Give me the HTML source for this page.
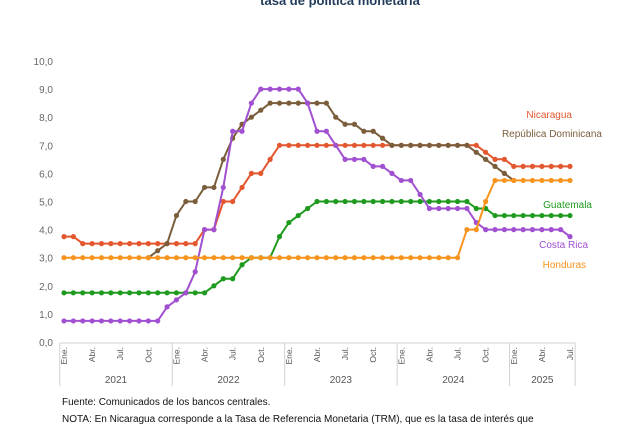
<!DOCTYPE html>
<html><head><meta charset="utf-8">
<style>
html,body{margin:0;padding:0;background:#fff;}
body{width:640px;height:424px;overflow:hidden;position:relative;font-family:"Liberation Sans",sans-serif;}
#title{position:absolute;left:0;width:680px;top:-7px;text-align:center;font-weight:bold;font-size:13px;color:#1f3a5a;}
svg{position:absolute;left:0;top:0;}
.foot{position:absolute;left:62px;font-size:10px;color:#111;}
</style></head>
<body>
<div id="title">tasa de política monetaria</div>
<svg id="chart" width="640" height="424"></svg>
<div class="foot" style="top:397px">Fuente: Comunicados de los bancos centrales.</div>
<div class="foot" style="top:414px">NOTA: En Nicaragua corresponde a la Tasa de Referencia Monetaria (TRM), que es la tasa de interés que</div>
<script>
const yTicks=[0,1,2,3,4,5,6,7,8,9,10];
const yTickLabels=["0,0","1,0","2,0","3,0","4,0","5,0","6,0","7,0","8,0","9,0","10,0"];
const months=["Ene.","Feb.","Mar.","Abr.","May.","Jun.","Jul.","Ago.","Sep.","Oct.","Nov.","Dic."];
const years=["2021","2022","2023","2024","2025"];
const nMonths=55;
const nicaragua=[3.75,3.75,3.5,3.5,3.5,3.5,3.5,3.5,3.5,3.5,3.5,3.5,3.5,3.5,3.5,4,4,5,5,5.5,6,6,6.5,7,7,7,7,7,7,7,7,7,7,7,7,7,7,7,7,7,7,7,7,7,7,6.75,6.5,6.5,6.25,6.25,6.25,6.25,6.25,6.25,6.25];
const repDom=[null,null,null,null,null,null,null,null,null,3,3.25,3.5,4.5,5,5,5.5,5.5,6.5,7.25,7.75,8,8.25,8.5,8.5,8.5,8.5,8.5,8.5,8.5,8,7.75,7.75,7.5,7.5,7.25,7,7,7,7,7,7,7,7,7,6.75,6.5,6.25,6,5.75];
const guatemala=[1.75,1.75,1.75,1.75,1.75,1.75,1.75,1.75,1.75,1.75,1.75,1.75,1.75,1.75,1.75,1.75,2,2.25,2.25,2.75,3,3,3,3.75,4.25,4.5,4.75,5,5,5,5,5,5,5,5,5,5,5,5,5,5,5,5,5,4.75,4.75,4.5,4.5,4.5,4.5,4.5,4.5,4.5,4.5,4.5];
const costaRica=[0.75,0.75,0.75,0.75,0.75,0.75,0.75,0.75,0.75,0.75,0.75,1.25,1.5,1.75,2.5,4,4,5.5,7.5,7.5,8.5,9,9,9,9,9,8.5,7.5,7.5,7,6.5,6.5,6.5,6.25,6.25,6,5.75,5.75,5.25,4.75,4.75,4.75,4.75,4.75,4.25,4,4,4,4,4,4,4,4,4,3.75];
const honduras=[3,3,3,3,3,3,3,3,3,3,3,3,3,3,3,3,3,3,3,3,3,3,3,3,3,3,3,3,3,3,3,3,3,3,3,3,3,3,3,3,3,3,3,4,4,5,5.75,5.75,5.75,5.75,5.75,5.75,5.75,5.75,5.75];
const seriesNames=["Nicaragua","República Dominicana","Guatemala","Costa Rica","Honduras"];

const NS="http://www.w3.org/2000/svg";
const svg=document.getElementById('chart');
const X0=64, DX=9.37, Y0=342, YS=28.1;
const xs=i=>X0+DX*i;
const ys=v=>Y0-YS*v;
function mk(tag,attrs,parent){const e=document.createElementNS(NS,tag);for(const k in attrs)e.setAttribute(k,attrs[k]);(parent||svg).appendChild(e);return e;}

yTicks.forEach((t,k)=>{
  const tx=mk('text',{x:53,y:ys(t)+4,'text-anchor':'end','font-size':'10','fill':'#666','font-family':'Liberation Sans, sans-serif'});
  
  
  tx.textContent=yTickLabels[k];
});
// x axis frame
const axisG=mk('g',{});


mk('line',{x1:xs(-0.45),x2:xs(nMonths-0.45),y1:343,y2:343,stroke:'#d0d0d0','stroke-width':1},axisG);
for(let y=0;y<=years.length;y++){
  const i=Math.min(y*12,nMonths)-0.45;
  mk('line',{x1:xs(i),x2:xs(i),y1:343,y2:386,stroke:'#d0d0d0','stroke-width':1},axisG);
}
for(let i=0;i<nMonths;i++){
  if(i%3!==0)continue;
  const t=mk('text',{x:0,y:0,'font-size':'8.5','fill':'#555','text-anchor':'end',transform:`translate(${xs(i)+3},347) rotate(-90)`,'font-family':'Liberation Sans, sans-serif'},axisG);
  
  
  t.textContent=months[i%12];
}
years.forEach((yr,y)=>{
  const a=xs(y*12-0.45), b=xs(Math.min(y*12+12,nMonths)-0.45);
  const t=mk('text',{x:(a+b)/2,y:383,'font-size':'10','fill':'#555','text-anchor':'middle','font-family':'Liberation Sans, sans-serif'},axisG);
  
  
  t.textContent=yr;
});

const allSeries=[
 {d:nicaragua,c:'#e4572e',n:'nicaragua',lx:572,ly:118},
 {d:repDom,c:'#7a5e3c',n:'republica-dominicana',lx:602,ly:137},
 {d:guatemala,c:'#1e9a1e',n:'guatemala',lx:592,ly:208},
 {d:costaRica,c:'#a050d0',n:'costa-rica',lx:588,ly:248},
 {d:honduras,c:'#f7941d',n:'honduras',lx:586,ly:268}
];
allSeries.forEach((s,k)=>{
  const g=mk('g',{});
  
  
  let pts=[];
  s.d.forEach((v,i)=>{if(v!==null)pts.push(xs(i).toFixed(1)+','+ys(v).toFixed(1));});
  const pl=mk('polyline',{points:pts.join(' '),fill:'none',stroke:s.c,'stroke-width':2,'stroke-linejoin':'round'},g);
  
  
  s.d.forEach((v,i)=>{
    if(v===null)return;
    const c=mk('circle',{cx:xs(i),cy:ys(v),r:2.6,fill:s.c},g);
    
    
  });
  const t=mk('text',{x:s.lx,y:s.ly,'font-size':'10','fill':s.c,'text-anchor':'end','font-family':'Liberation Sans, sans-serif'});
  
  
  t.textContent=seriesNames[k];
});
</script>
</body></html>
